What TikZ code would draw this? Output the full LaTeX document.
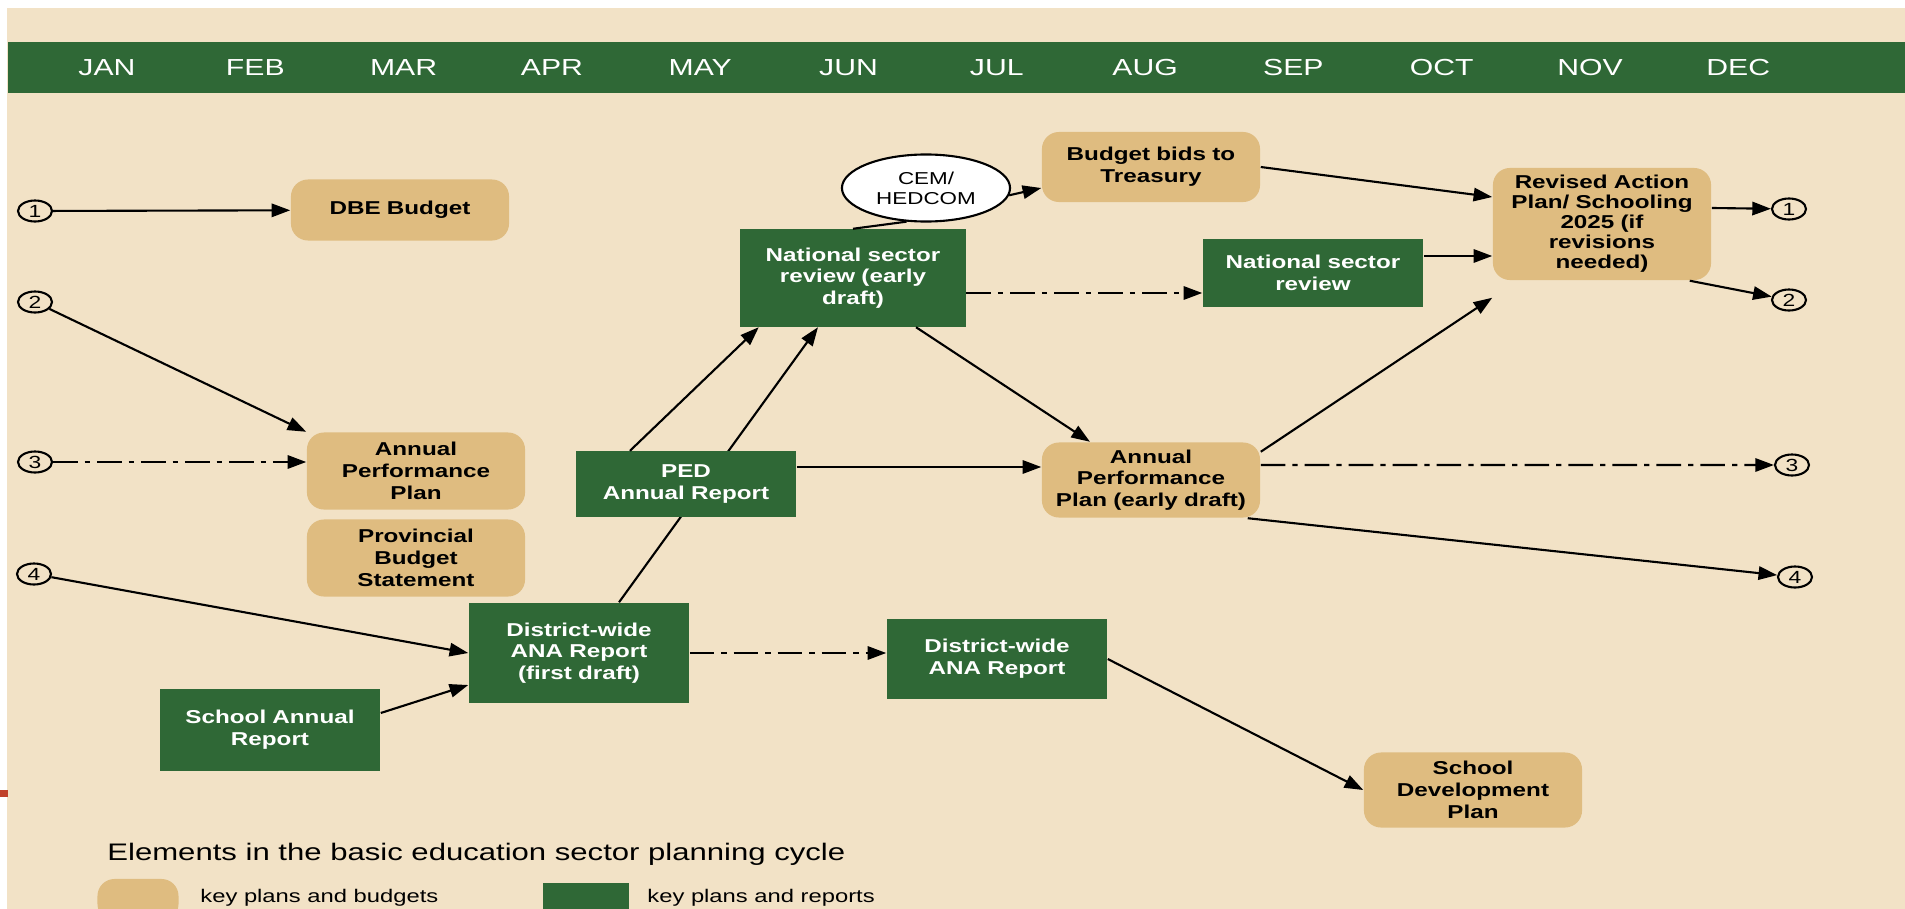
\documentclass[tikz,border=0pt]{standalone}
\usepackage{fontspec}
\usepackage{tikz}
\usetikzlibrary{shapes,arrows.meta,positioning,backgrounds}
\newfontfamily\diafont{Liberation Sans}[FakeStretch=1.3]
\definecolor{pagebeige}{HTML}{F2E2C6}
\definecolor{plantan}{HTML}{DFBC80}
\definecolor{reportgreen}{HTML}{2F6836}
\definecolor{edgered}{HTML}{C0402A}

\begin{document}
\begin{tikzpicture}[x=0.01cm, y=-0.01cm,
    >={Triangle[length=5.3pt, width=3.8pt]},
    plan/.style={rectangle, rounded corners=0.17cm, fill=plantan, text width=2.08cm, inner sep=0.05cm, align=center, font=\diafont\bfseries\fontsize{5.3}{6.2}\selectfont},
    report/.style={rectangle, fill=reportgreen, text=white, text width=2.1cm, inner sep=0.05cm, align=center, font=\diafont\bfseries\fontsize{5.3}{6.2}\selectfont},
    marker/.style={ellipse, draw, semithick, minimum width=0.34cm, minimum height=0.21cm, inner sep=0pt, font=\diafont\fontsize{5}{5}\selectfont},
    month/.style={text=white, font=\diafont\fontsize{6.6}{7}\selectfont},
    draftline/.style={dash pattern=on 7pt off 2pt on 1.5pt off 2pt}]

    \useasboundingbox (0,0) rectangle (1905,909);
    \clip (0,0) rectangle (1905,909);
    \begin{scope}[on background layer]
        \fill[white] (0,0) rectangle (1905,909);
        \fill[pagebeige] (7,8) rectangle (1905,909);
    \end{scope}

    % month band
    \fill[reportgreen] (8,42) rectangle (1905,93);
    \foreach \m [count=\i from 0] in {JAN,FEB,MAR,APR,MAY,JUN,JUL,AUG,SEP,OCT,NOV,DEC}
        \node[month] (m\i) at ({107+148.3*\i},68) {\m};
    \fill[edgered] (0,790) rectangle (8,797);

    % numbered links
    \node[marker] (c1L) at (35,211) {1};
    \node[marker] (c2L) at (35,302) {2};
    \node[marker] (c3L) at (35,462) {3};
    \node[marker] (c4L) at (34,574) {4};
    \node[marker] (c1R) at (1789,209) {1};
    \node[marker] (c2R) at (1789,300) {2};
    \node[marker] (c3R) at (1792,465) {3};
    \node[marker] (c4R) at (1795,577) {4};

    % plans and budgets
    \node[plan, minimum height=0.61cm] (dbe) at (400,210) {DBE Budget};
    \node[plan, minimum height=0.77cm] (app) at (416,471) {Annual\\Performance\\Plan};
    \node[plan, minimum height=0.77cm] (pbs) at (416,558) {Provincial\\Budget\\Statement};
    \node[plan, minimum height=0.70cm] (bbt) at (1151,167) {Budget bids to\\Treasury};
    \node[plan, minimum height=1.12cm, font=\diafont\bfseries\fontsize{5.3}{5.7}\selectfont] (rap) at (1602,224) {Revised Action\\Plan/ Schooling\\2025 (if\\revisions\\needed)};
    \node[plan, minimum height=0.75cm] (appe) at (1151,480) {Annual\\Performance\\Plan (early draft)};
    \node[plan, minimum height=0.75cm] (sdp) at (1473,790) {School\\Development\\Plan};

    % reports
    \node[report, text width=2.15cm, minimum height=0.97cm] (ned) at (853,278) {National sector\\review (early\\draft)};
    \node[report, minimum height=0.68cm] (nsr) at (1313,273) {National sector\\review};
    \node[report, minimum height=0.65cm] (ped) at (686,484) {PED\\Annual Report};
    \node[report, minimum height=1.00cm] (dist1) at (579,653) {District-wide\\ANA Report\\(first draft)};
    \node[report, minimum height=0.80cm] (dist) at (997,659) {District-wide\\ANA Report};
    \node[report, minimum height=0.81cm] (sar) at (270,730) {School Annual\\Report};

    \node[ellipse, draw, semithick, fill=white, minimum width=1.68cm, minimum height=0.67cm, inner sep=0pt, align=center, font=\diafont\fontsize{4.9}{5.6}\selectfont] (cem) at (926,188) {CEM/\\HEDCOM};

    % connectors
    \draw[->, semithick] (c1L) -- (dbe);
    \draw[->, semithick] (c2L) -- (app.north west);
    \draw[->, semithick, draftline] (c3L) -- (c3L -| app.west);
    \draw[->, semithick] (c4L) -- (dist1.west);
    \draw[->, semithick] ([yshift=0.17cm]sar.east) -- ([yshift=-0.32cm]dist1.west);
    \draw[->, semithick, draftline] (dist1.east) -- (dist1.east -| dist.west);
    \draw[->, semithick] (dist.east) -- (sdp.west);
    \begin{scope}[on background layer]
        \draw[->, semithick] ([xshift=0.4cm]dist1.north) -- ([xshift=-0.35cm]ned.south);
    \end{scope}
    \draw[->, semithick] ([xshift=-0.56cm]ped.north) -- ([xshift=0.19cm]ned.south west);
    \draw[->, semithick] ([yshift=0.17cm]ped.east) -- ([yshift=0.17cm]ped.east -| appe.west);
    \draw[->, semithick] ([xshift=0.63cm]ned.south) -- ([xshift=-0.61cm]appe.north);
    \draw[semithick] (ned.north) -- (cem.240);
    \draw[->, semithick] (cem.-5) -- ([yshift=-0.21cm]bbt.west);
    \draw[->, semithick] (bbt.east) -- ([yshift=0.27cm]rap.west);
    \draw[->, semithick, draftline] ([yshift=-0.15cm]ned.east) -- ([yshift=-0.15cm]ned.east -| nsr.west);
    \draw[->, semithick] ([yshift=0.17cm]nsr.east) -- ([yshift=0.17cm]nsr.east -| rap.west);
    \draw[->, semithick] ([yshift=-0.1cm]appe.north east) -- ([yshift=-0.17cm]rap.south west);
    \draw[->, semithick] ([yshift=0.16cm]rap.east) -- (c1R);
    \draw[->, semithick] ([xshift=-0.22cm]rap.south east) -- (c2R);
    \draw[->, semithick, draftline] ([yshift=0.15cm]appe.east) -- (c3R);
    \draw[->, semithick] ([xshift=-0.13cm]appe.south east) -- (c4R);

    % legend
    \node[anchor=west, font=\diafont\fontsize{6.8}{8}\selectfont] (legtitle) at (95,854) {Elements in the basic education sector planning cycle};
    \node[plan, text width=0.71cm, minimum height=0.42cm] (legplan) at (138,900) {};
    \node[report, text width=0.75cm, minimum height=0.42cm] (legreport) at (586,904) {};
    \node[anchor=west, font=\diafont\fontsize{5.2}{6}\selectfont] (legplantext) at (188,898) {key plans and budgets};
    \node[anchor=west, font=\diafont\fontsize{5.2}{6}\selectfont] (legreporttext) at (635,898) {key plans and reports};
\end{tikzpicture}
\end{document}
